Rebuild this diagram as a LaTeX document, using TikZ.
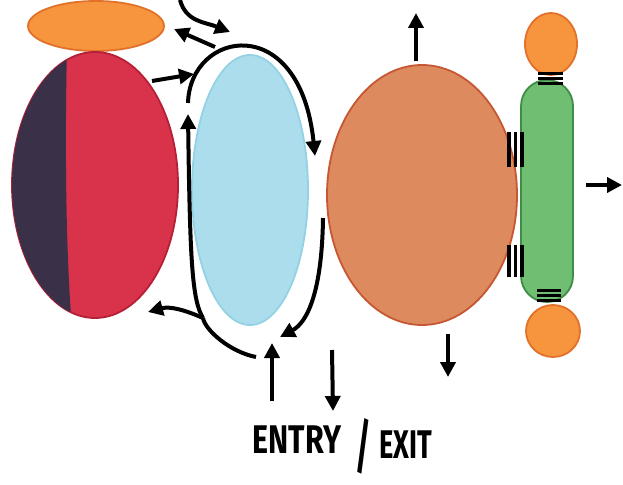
\documentclass[tikz,border=0pt]{standalone}
\usepackage{fontspec}
\setmainfont{Fira Sans}
\usetikzlibrary{arrows.meta,shapes.geometric}
\definecolor{orangeA}{HTML}{F6953E}
\definecolor{orangeB}{HTML}{E2712A}
\definecolor{darkA}{HTML}{3A3048}
\definecolor{redA}{HTML}{D9334C}
\definecolor{redB}{HTML}{B52036}
\definecolor{blueA}{HTML}{ACDDEC}
\definecolor{blueB}{HTML}{93D2E5}
\definecolor{salmonA}{HTML}{DD8A5F}
\definecolor{salmonB}{HTML}{C65732}
\definecolor{greenA}{HTML}{70BE72}
\definecolor{greenB}{HTML}{3E8C46}
\tikzset{
  blob/.style={ellipse, inner sep=0pt, line width=1.8pt},
  arr/.style={line width=4pt, -{Triangle[length=15pt,width=15pt]}},
  plain/.style={line width=4pt},
  stripe/.style={line width=3.6pt, black},
  lbl/.style={inner sep=0pt, font=\fontsize{40}{40}\selectfont\bfseries}
}
\begin{document}
\begin{tikzpicture}[x=1pt,y=-1pt]
\path[use as bounding box, fill=white] (0,0) rectangle (623,484);
% left shapes
\node[blob, fill=orangeA, draw=orangeB, minimum width=136pt, minimum height=50pt] (otop) at (96,26) {};
\node[blob, fill=redA, draw=redB, minimum width=166pt, minimum height=266pt] (red) at (95,185) {};
\begin{scope}
  \clip (0,0) -- (68,0) .. controls (64,150) and (66,250) .. (72,330) -- (0,330) -- cycle;
  \fill[darkA] (95,185) ellipse [x radius=83pt, y radius=133pt];
\end{scope}
\node[blob, fill=blueA, draw=blueB, minimum width=116pt, minimum height=270pt] (blue) at (250,190) {};
% right shapes
\node[blob, fill=salmonA, draw=salmonB, minimum width=190pt, minimum height=260pt] (salmon) at (422,195) {};
\node[rectangle, rounded corners=26pt, fill=greenA, draw=greenB, line width=1.8pt, minimum width=52pt, minimum height=222pt, inner sep=0pt] (green) at (547,191) {};
\node[blob, fill=orangeA, draw=orangeB, minimum width=52pt, minimum height=62pt] (btop) at (551,44) {};
\node[blob, fill=orangeA, draw=orangeB, minimum width=54pt, minimum height=52pt] (bbot) at (553,331) {};
% stripes
\foreach \y in {73.5,78.5,83.5} \draw[stripe] (538,\y) -- (563,\y);
\foreach \y in {290.5,295.5,300.5} \draw[stripe] (537,\y) -- (561,\y);
\foreach \x in {509,515.5,522} {
  \draw[stripe] (\x,132) -- (\x,167);
  \draw[stripe] (\x,245) -- (\x,277);
}
% coordinates
\coordinate (c1s) at (180,0);
\coordinate (c1e) at (230,32);
\coordinate (c2s) at (215,47);
\coordinate (c2e) at (174,29);
\coordinate (arcS) at (188,103);
\coordinate (arcE) at (315,156);
\coordinate (rbS) at (152,81);
\coordinate (rbE) at (194,74);
\coordinate (rcS) at (323,218);
\coordinate (rcE) at (280,337);
\coordinate (lS) at (256,357);
\coordinate (lJ) at (203,318);
\coordinate (lE) at (188,114);
\coordinate (lL) at (148,312);
\coordinate (u1s) at (272,401);
\coordinate (u1e) at (272,343);
\coordinate (d1s) at (332,350);
\coordinate (d1e) at (333,411);
\coordinate (u2s) at (416,61);
\coordinate (u2e) at (416,13);
\coordinate (d2s) at (448,334);
\coordinate (d2e) at (448,377);
\coordinate (r1s) at (586,185);
\coordinate (r1e) at (622,185);
% connectors
\draw[arr] (c1s) .. controls (186,22) and (205,22) .. (c1e);
\draw[arr] (c2s) -- (c2e);
\draw[arr] (arcS) .. controls (190,30) and (300,10) .. (arcE);
\draw[arr] (rbS) -- (rbE);
\draw[arr] (rcS) .. controls (322,290) and (308,322) .. (rcE);
\draw[plain] (lS) .. controls (230,352) and (205,330) .. (lJ);
\draw[arr] (lJ) .. controls (192,300) and (190,260) .. (lE);
\draw[arr] (lJ) .. controls (185,310) and (170,306) .. (lL);
\draw[arr] (u1s) -- (u1e);
\draw[arr] (d1s) -- (d1e);
\draw[arr] (u2s) -- (u2e);
\draw[arr] (d2s) -- (d2e);
\draw[arr] (r1s) -- (r1e);
% label
\node[lbl] (entry) at (297,440) {\scalebox{0.76}[1]{ENTRY}};
\node[lbl, font=\fontsize{60}{60}\selectfont\bfseries] (slash) at (363,446) {\scalebox{0.5}[1]{/}};
\node[lbl] (exit) at (406,445) {\scalebox{0.68}[1]{EXIT}};
\end{tikzpicture}
\end{document}
